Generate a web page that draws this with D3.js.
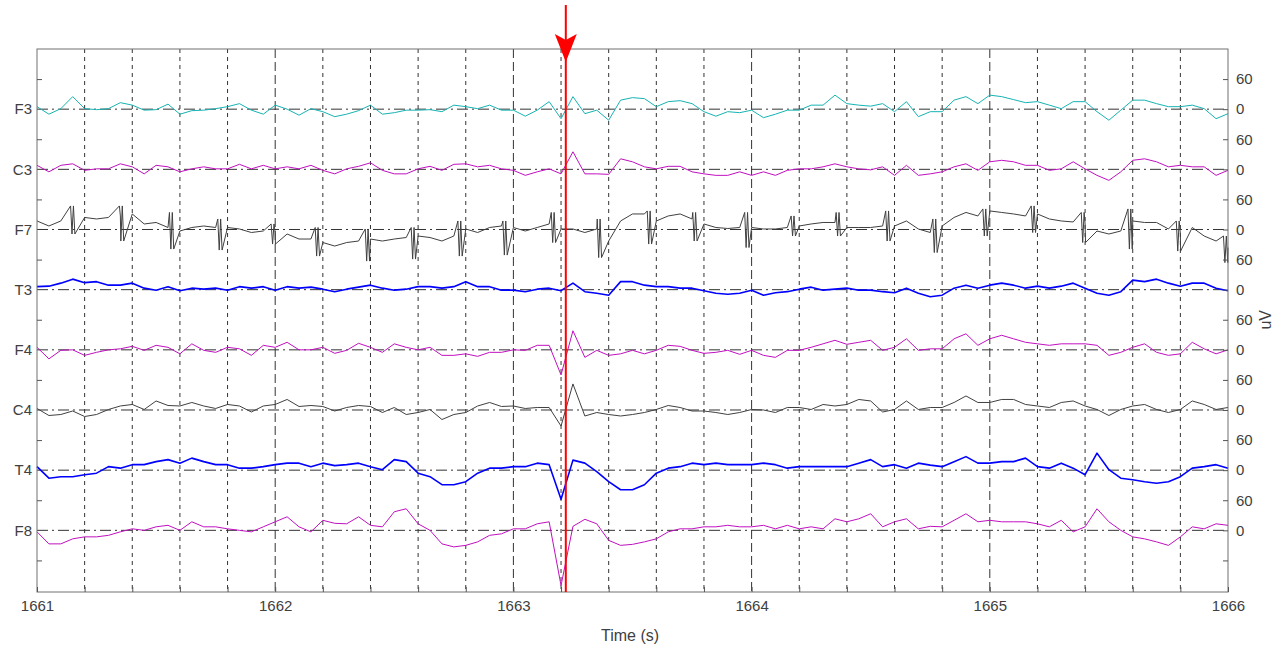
<!DOCTYPE html>
<html>
<head>
<meta charset="utf-8">
<title>EEG</title>
<script src="https://cdn.jsdelivr.net/npm/d3@7/dist/d3.min.js"></script>
<style>
    body { margin: 0; background: #fff; }
    svg text { font-family: "Liberation Sans", Arial, sans-serif; fill: #404040; }
</style>
</head>
<body>
<div id="chart"></div>
<script>
// channel names, top to bottom
const channels = ["F3", "C3", "F7", "T3", "F4", "C4", "T4", "F8"];

// samples every 0.05 s from 1661 to 1666 (uV)
const F3 = [5,-10,1,25,1,-1,1,13,8,-2,-1,10,-10,-3,-2,1,5,11,-2,-10,8,0,-12,1,-5,-15,
    -10,-3,8,-10,-7,-2,-2,-1,-5,8,5,1,8,-2,-2,-14,-2,15,-19,25,-9,-2,-22,18,23,
    21,5,15,17,11,-5,-14,-5,-7,-2,-17,-10,-2,-2,8,8,28,11,8,6,11,-5,15,-15,-5,
    -5,18,25,11,28,25,19,13,15,8,1,15,15,-5,-22,-2,18,18,11,5,5,8,1,-19,-9];
const C3 = [8,-5,8,11,-2,1,1,11,5,-9,8,5,-5,1,5,1,1,10,1,8,1,5,1,8,-2,-9,
    1,6,13,-2,-9,-9,1,6,-2,10,11,5,8,1,-2,-12,-5,1,-9,35,-9,-9,-10,21,15,
    5,1,6,6,-5,-9,-12,-12,-5,-12,-5,-12,-2,1,1,5,11,5,1,-1,5,-12,8,-12,-9,
    -5,5,11,-2,15,18,15,8,8,-2,1,15,1,-12,-22,-5,18,21,15,5,8,5,5,-12,-2];
const F7 = [17,7,17,21,24,21,24,27,31,11,14,4,-3,4,7,4,4,1,-6,-3,-6,-9,-19,-19,-26,-33,
    -26,-23,-19,-23,-19,-16,-13,-16,-23,-13,1,-6,4,7,4,-3,4,11,1,1,-6,1,-23,17,31,
    31,17,27,31,21,11,4,2,4,4,1,1,4,7,11,14,14,4,4,4,7,7,17,1,-6,
    7,24,34,27,37,34,31,27,31,21,17,15,11,-3,-9,-3,17,14,14,1,-9,4,-13,-23,-36];
const T3 = [6,7,13,21,14,16,9,9,13,3,-1,6,-2,3,1,3,-1,6,3,6,-1,6,3,5,1,-4,
    1,5,9,3,-1,1,6,6,3,6,16,6,6,-1,-1,-4,1,3,-2,13,-4,-7,-11,16,16,
    9,6,6,3,3,-2,-7,-9,-7,-1,-11,-6,-4,1,5,-1,1,3,-1,-1,-4,-6,3,-7,-14,
    -11,3,9,3,9,13,9,3,7,3,7,13,3,-7,-11,-4,19,16,21,13,7,13,13,3,-2];
const F4 = [5,-18,-1,0,-11,-5,0,2,7,-1,9,5,-8,12,-1,-5,5,2,-11,9,5,15,0,0,5,-7,
    -1,13,5,-5,12,5,0,5,-11,-11,-8,-13,-5,-5,0,-1,9,9,-50,38,-15,-1,-11,-8,-1,
    -8,-1,9,7,-1,-7,-5,-1,-9,-1,-11,-15,-1,-1,5,12,19,11,15,19,-1,5,22,-1,2,
    2,22,32,9,22,29,22,15,12,9,12,12,12,9,-11,-5,5,12,-5,-11,-8,15,2,-8,0];
const C4 = [3,-11,-9,-2,-13,-9,1,8,11,1,18,9,8,15,8,3,11,8,-4,8,11,21,7,9,7,-2,
    5,9,7,-5,5,-9,-5,1,-19,-9,-5,8,15,7,8,3,5,5,-32,52,-12,-5,-9,-12,-9,
    -5,1,9,5,-2,-2,-5,-9,-5,1,0,-5,5,5,1,11,8,11,21,18,-4,1,18,1,5,
    5,15,28,15,15,21,21,11,8,5,15,18,8,1,-11,1,8,11,1,-5,1,18,11,1,5];
const T4 = [7,-16,-13,-13,-9,-6,7,4,11,11,17,21,14,24,17,11,11,4,4,7,11,14,14,7,14,9,
    11,14,7,1,21,17,-6,-13,-29,-29,-23,-6,4,4,7,7,14,11,-58,20,14,-3,-23,-39,-39,
    -29,-6,4,7,14,11,14,11,11,11,14,11,4,7,7,7,7,7,14,21,7,11,4,14,10,
    7,17,27,14,14,17,17,24,7,4,14,4,-9,34,1,-16,-19,-23,-26,-23,-13,4,7,11,4];
const F8 = [-3,-27,-27,-17,-13,-13,-10,-3,3,0,7,10,0,17,7,7,3,0,-3,7,17,27,7,-3,20,14,
    13,27,10,7,37,43,13,0,-27,-33,-30,-23,-10,-7,3,3,13,17,-110,8,22,13,-20,-30,-28,
    -23,-17,-3,3,3,7,7,10,7,7,10,3,10,3,7,3,23,17,23,33,7,17,23,3,8,
    7,20,33,17,20,17,17,17,13,7,20,-3,7,43,17,0,-13,-17,-23,-30,-13,7,3,13,10];

// F7 artifact bursts: time (s), high (uV), low (uV)
const f7Spikes = [
    [1661.15, 47, -9], [1661.355, 47, -23], [1661.565, 34, -39], [1661.768, 21, -41],
    [1661.992, 11, -29], [1662.177, 4, -53], [1662.387, 1, -63], [1662.58, 4, -59],
    [1662.776, 17, -53], [1662.965, 17, -51], [1663.168, 34, -26], [1663.361, 21, -56],
    [1663.571, 37, -29], [1663.762, 34, -23], [1663.98, 34, -36], [1664.175, 27, -13],
    [1664.364, 34, -13], [1664.572, 37, -23], [1664.77, 21, -46], [1664.98, 41, -13],
    [1665.183, 47, -6], [1665.393, 34, -26], [1665.589, 41, -39], [1665.792, 17, -43],
    [1665.99, -13, -66]
];

const xTickLabels = [1661, 1662, 1663, 1664, 1665, 1666];
const eventTime = 1663.22;

const series = { F3, C3, F7, T3, F4, C4, T4, F8 };
const colors = { F3: "#17b3b3", C3: "#c010c0", F7: "#404040", T3: "#0000ff",
                 F4: "#c010c0", C4: "#404040", T4: "#0000ff", F8: "#c010c0" };
const step = 0.05, spacing = 120;

const W = 1286, H = 654;
const pLeft = 37, pRight = 1228, pTop = 49, pBottom = 592;

const svg = d3.select("#chart").append("svg")
    .attr("width", W).attr("height", H);

const x = d3.scaleLinear().domain([1661, 1666]).range([pLeft, pRight]);
const y = d3.scaleLinear().domain([-123, 960]).range([pBottom, pTop]);
const offset = i => (channels.length - 1 - i) * spacing;

// vertical grid every 0.2 s
const gridT = d3.range(1, 25).map(k => 1661 + k * 0.2);
svg.append("g").selectAll("line")
    .data(gridT).enter().append("line")
    .attr("x1", d => x(d)).attr("x2", d => x(d))
    .attr("y1", pTop).attr("y2", pBottom)
    .attr("stroke", "#333")
    .attr("stroke-width", 1)
    .attr("stroke-dasharray", d => Math.abs(d - Math.round(d)) < 1e-6 ? "9,4" : "4,4");

// baselines (dash-dot)
svg.append("g").selectAll("line")
    .data(channels).enter().append("line")
    .attr("x1", pLeft).attr("x2", pRight)
    .attr("y1", (d, i) => y(offset(i))).attr("y2", (d, i) => y(offset(i)))
    .attr("stroke", "#333")
    .attr("stroke-dasharray", "11,4,2,4");

// traces
const line = d3.line().x(d => x(d[0])).y(d => y(d[1]));
channels.forEach((name, i) => {
    let pts = series[name].map((v, k) => [1661 + k * step, v]);
    if (name === "F7") {
        f7Spikes.forEach(([t, hi, lo]) => {
            pts.push([t - 0.009, hi], [t - 0.003, lo], [t + 0.003, hi], [t + 0.009, lo]);
        });
        pts.sort((a, b) => a[0] - b[0]);
    }
    svg.append("path")
        .datum(pts.map(p => [p[0], p[1] + offset(i)]))
        .attr("fill", "none")
        .attr("stroke", colors[name])
        .attr("stroke-width", name[0] === "T" ? 1.6 : 1)
        .attr("stroke-linejoin", "round")
        .attr("d", line);
});

// frame
svg.append("rect")
    .attr("x", pLeft).attr("y", pTop)
    .attr("width", pRight - pLeft).attr("height", pBottom - pTop)
    .attr("fill", "none").attr("stroke", "#707070");

// bottom axis
const xAxis = svg.append("g")
    .attr("transform", `translate(0,${pBottom})`)
    .call(d3.axisBottom(x).tickValues(d3.range(0, 26).map(k => 1661 + k * 0.2))
        .tickSize(-5).tickPadding(8)
        .tickFormat(d => xTickLabels.includes(Math.round(d * 10) / 10) ? d3.format("d")(d) : ""));
xAxis.select(".domain").remove();
xAxis.selectAll("line").attr("stroke", "#555");
xAxis.selectAll("text").style("font-size", "15px").attr("fill", "#404040");

// left and right uV ticks
const yTicks = [];
channels.forEach((c, i) => { yTicks.push(offset(i), offset(i) + 60); });
yTicks.push(-60);
const labelOf = v => v < 0 ? "" : (v % spacing === 0 ? "0" : "60");

const yRight = svg.append("g")
    .attr("transform", `translate(${pRight},0)`)
    .call(d3.axisRight(y).tickValues(yTicks).tickSize(-5).tickPadding(8).tickFormat(labelOf));
yRight.select(".domain").remove();
yRight.selectAll("line").attr("stroke", "#555");
yRight.selectAll("text").style("font-size", "15px").attr("fill", "#404040");

const yLeft = svg.append("g")
    .attr("transform", `translate(${pLeft},0)`)
    .call(d3.axisLeft(y).tickValues(yTicks.filter(v => v % spacing !== 0)).tickSize(-5).tickFormat(""));
yLeft.select(".domain").remove();
yLeft.selectAll("line").attr("stroke", "#555");

// channel names
svg.append("g").selectAll("text")
    .data(channels).enter().append("text")
    .attr("x", pLeft - 5)
    .attr("y", (d, i) => y(offset(i)))
    .attr("dy", "0.35em")
    .attr("text-anchor", "end")
    .style("font-size", "15px")
    .text(d => d);

// axis titles
svg.append("text")
    .attr("x", 630).attr("y", 641)
    .attr("text-anchor", "middle")
    .style("font-size", "16px")
    .text("Time (s)");
svg.append("text")
    .attr("transform", `translate(1271,${y(420)}) rotate(-90)`)
    .attr("text-anchor", "middle")
    .style("font-size", "16px")
    .text("uV");

// event marker
const ex = x(eventTime);
svg.append("line")
    .attr("x1", ex).attr("x2", ex)
    .attr("y1", 5).attr("y2", pBottom)
    .attr("stroke", "#ff0000").attr("stroke-width", 2);
svg.append("path")
    .attr("d", `M${ex - 11},34 L${ex},40 L${ex + 11},34 L${ex},62 Z`)
    .attr("fill", "#ff0000");
</script>
</body>
</html>
